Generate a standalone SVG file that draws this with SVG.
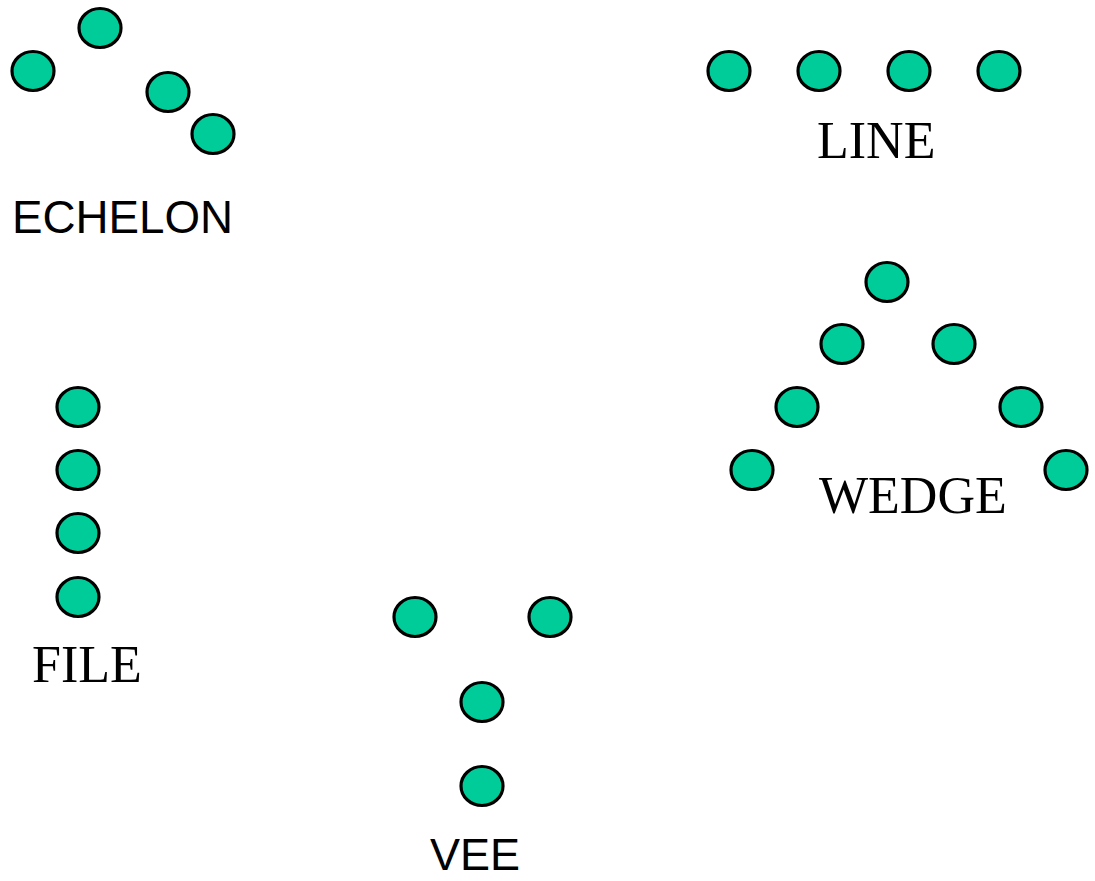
<svg xmlns="http://www.w3.org/2000/svg" width="1095" height="881" viewBox="0 0 1095 881">
<style>
.u{fill:#00CC99;stroke:#000;stroke-width:3.2}
.s{font-family:"Liberation Sans",Arial,sans-serif;font-size:45px;fill:#000}
.t{font-family:"Liberation Serif","Times New Roman",serif;font-size:52px;fill:#000}
</style>
<rect width="1095" height="881" fill="#fff"/>
<g id="echelon">
<ellipse class="u" cx="100" cy="28" rx="21" ry="19.5"/>
<ellipse class="u" cx="33" cy="71" rx="21" ry="19.5"/>
<ellipse class="u" cx="168" cy="92" rx="21" ry="19.5"/>
<ellipse class="u" cx="213" cy="134" rx="21" ry="19.5"/>
<text class="s" x="12" y="233" style="font-size:46px" textLength="221" lengthAdjust="spacingAndGlyphs">ECHELON</text>
</g>
<g id="line">
<ellipse class="u" cx="729" cy="71" rx="21" ry="19.5"/>
<ellipse class="u" cx="819" cy="71" rx="21" ry="19.5"/>
<ellipse class="u" cx="909" cy="71" rx="21" ry="19.5"/>
<ellipse class="u" cx="999" cy="71" rx="21" ry="19.5"/>
<text class="t" x="817" y="158">LINE</text>
</g>
<g id="wedge">
<ellipse class="u" cx="887" cy="282" rx="21" ry="19.5"/>
<ellipse class="u" cx="842" cy="344" rx="21" ry="19.5"/>
<ellipse class="u" cx="954" cy="344" rx="21" ry="19.5"/>
<ellipse class="u" cx="797" cy="407" rx="21" ry="19.5"/>
<ellipse class="u" cx="1021" cy="407" rx="21" ry="19.5"/>
<ellipse class="u" cx="752" cy="470" rx="21" ry="19.5"/>
<ellipse class="u" cx="1066" cy="470" rx="21" ry="19.5"/>
<text class="t" x="819" y="513">WEDGE</text>
</g>
<g id="file">
<ellipse class="u" cx="78" cy="407" rx="21" ry="19.5"/>
<ellipse class="u" cx="78" cy="470" rx="21" ry="19.5"/>
<ellipse class="u" cx="78" cy="533" rx="21" ry="19.5"/>
<ellipse class="u" cx="78" cy="597" rx="21" ry="19.5"/>
<text class="t" x="32" y="682">FILE</text>
</g>
<g id="vee">
<ellipse class="u" cx="415" cy="617" rx="21" ry="19.5"/>
<ellipse class="u" cx="550" cy="617" rx="21" ry="19.5"/>
<ellipse class="u" cx="482" cy="702" rx="21" ry="19.5"/>
<ellipse class="u" cx="482" cy="786" rx="21" ry="19.5"/>
<text class="s" x="430" y="870">VEE</text>
</g>
<g id="connectors"/>
</svg>
